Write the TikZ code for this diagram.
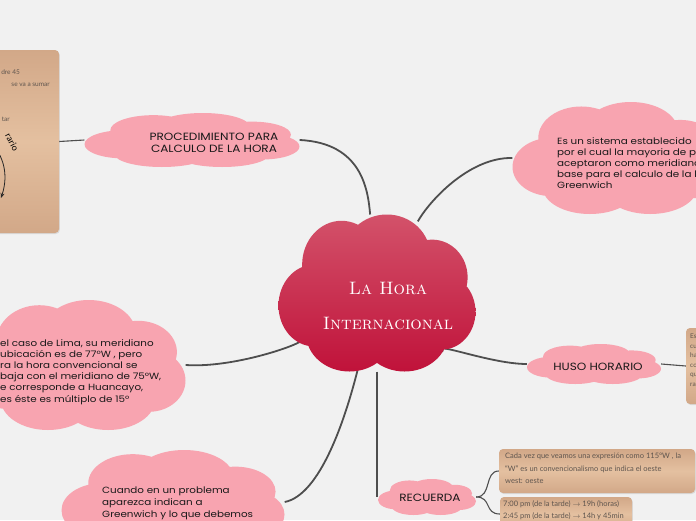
\documentclass[tikz,border=0pt]{standalone}
\usepackage{fontspec}
\usetikzlibrary{shapes.geometric,shadows,arrows.meta}
\newfontfamily\geo[FakeStretch=1.15]{Poppins}
\newfontfamily\hw{Lato}
\definecolor{bgc}{RGB}{241,241,241}
\definecolor{pinkc}{RGB}{248,164,176}
\definecolor{tanA}{RGB}{210,168,136}
\definecolor{tanB}{RGB}{228,192,160}
\definecolor{redA}{RGB}{211,82,106}
\definecolor{redB}{RGB}{192,18,58}
\definecolor{linec}{RGB}{78,78,78}
\definecolor{boxtxt}{RGB}{95,85,78}
\pgfdeclarelayer{bglayer}
\pgfsetlayers{bglayer,main}
% cloud outline in a 100 x 100 unit box centred on the origin
\newcommand\cloudshape{(-32,8) ellipse [x radius=18, y radius=26]
 (-18,-18) ellipse [x radius=20, y radius=28]
 (5,-24) ellipse [x radius=22, y radius=26]
 (28,-10) ellipse [x radius=18, y radius=24]
 (33,12) ellipse [x radius=17, y radius=24]
 (14,26) ellipse [x radius=22, y radius=24]
 (-14,26) ellipse [x radius=22, y radius=24]
 (0,2) ellipse [x radius=36, y radius=30]}
\newcommand\mkcloud[5]{% name, cx, cy, w, h
 \fill[pinkc, shift={(#2,#3)}, xscale=#4/100, yscale=#5/100] \cloudshape;
 \node[cloudnode, minimum width=#4pt, minimum height=#5pt] (#1) at (#2,#3) {};}
\begin{document}
\begin{tikzpicture}[x=1pt,y=-1pt,
  cloudnode/.style={ellipse, draw=none, inner sep=0pt},
  tanbox/.style={rectangle, rounded corners=4pt, draw=none, top color=tanA, bottom color=tanA, middle color=tanB, inner sep=0pt, drop shadow={opacity=0.2, shadow xshift=0.8pt, shadow yshift=-1pt}},
  mainline/.style={draw=linec, line width=1.8pt},
  subline/.style={draw=linec, line width=1.1pt},
  ctxt/.style={font=\geo\fontsize{9}{11}\selectfont, align=left, text=black!90, inner sep=0pt},
  capstxt/.style={font=\geo\fontsize{10.5}{12}\selectfont, align=center, text=black!90, inner sep=0pt},
  btxt/.style={font=\hw\fontsize{7.5}{12.5}\selectfont, align=left, text=boxtxt, inner sep=0pt},
  smalltxt/.style={font=\hw\fontsize{6.5}{8}\selectfont, text=boxtxt, inner sep=0pt}
]
\useasboundingbox (0,0) rectangle (696,520);
\begin{pgfonlayer}{bglayer}
\fill[bgc] (0,0) rectangle (696,520);
\end{pgfonlayer}
\clip (0,0) rectangle (696,520);

% central cloud
\shade[top color=redA, bottom color=redB, shift={(377,293)}, xscale=1.97, yscale=1.57] \cloudshape;
\node[cloudnode, minimum width=197pt, minimum height=157pt] (c) at (377,293) {};
\node[font=\fontsize{18}{35}\selectfont\scshape, text=white, align=center, inner sep=0pt] (title) at (388,306) {La Hora\\Internacional};

% procedure
\mkcloud{proc}{192}{140}{215}{54}
\node[capstxt] (proctxt) at (214,143) {PROCEDIMIENTO PARA\\CALCULO DE LA HORA};
\node[tanbox, minimum width=72pt, minimum height=183pt] (lbox) at (23,141.5) {};
\node[smalltxt, anchor=base east] (lb1) at (20,74) {dre 45};
\node[smalltxt, anchor=base east] (lb2) at (50,86) {se va a sumar};
\node[smalltxt, anchor=base east] (lb3) at (10,121) {tar};
\node[font=\hw\fontsize{9}{9}\selectfont, rotate=-62, inner sep=0pt] (lb4) at (12,142) {rario};
\coordinate (arcA) at (-9,143);
\coordinate (arcB) at (1,198);
\draw[line width=0.8pt, black!85, -{Stealth[length=5pt,width=4pt]}] (arcA) .. controls (3,155) and (9,174) .. (arcB);

% top right
\mkcloud{tr}{620}{158}{215}{112}
\node[ctxt, anchor=north west] (trtxt) at (557,137) {Es un sistema establecido\\por el cual la mayoria de países\\aceptaron como meridiano\\base para el calculo de la hora\\Greenwich};

% left cloud
\mkcloud{lc}{78}{365}{215}{130}
\node[ctxt, anchor=north west, font=\geo\fontsize{9}{11.2}\selectfont] (lctxt) at (0,339) {el caso de Lima, su meridiano\\ubicación es de 77°W , pero\\ra la hora convencional se\\baja con el meridiano de 75°W,\\e corresponde a Huancayo,\\es éste es múltiplo de 15°};

% bottom left
\mkcloud{bl}{173}{502}{223}{104}
\node[ctxt, anchor=north west, font=\geo\fontsize{9}{12}\selectfont] (bltxt) at (102,487) {Cuando en un problema\\aparezca indican a\\Greenwich y lo que debemos};

% huso horario
\mkcloud{huso}{594}{364}{134}{40}
\node[capstxt] (husotxt) at (598,367) {HUSO HORARIO};
\node[tanbox, minimum width=30pt, minimum height=76pt] (hbox) at (701,366) {};
\node[btxt, anchor=north west, font=\hw\fontsize{6.5}{9.5}\selectfont] (hboxtxt) at (690,334) {Es\\cu\\ha\\co\\qu\\ra};

% recuerda
\mkcloud{rec}{427}{497}{98}{36}
\node[capstxt] (rectxt) at (430,498) {RECUERDA};
\node[tanbox, minimum width=196pt, minimum height=44pt] (b1) at (597,471) {};
\node[btxt, anchor=north west] (b1txt) at (505,453) {Cada vez que veamos una expresión como 115°W , la\\“W” es un convencionalismo que indica el oeste\\west: oeste};
\node[tanbox, minimum width=132pt, minimum height=34pt] (b2) at (566,514) {};
\node[btxt, anchor=north west] (b2txt) at (503,500) {7:00 pm (de la tarde) $\rightarrow$ 19h (horas)\\2:45 pm (de la tarde) $\rightarrow$ 14h y 45min};

\begin{pgfonlayer}{bglayer}
\draw[mainline] (c) .. controls (368,190) and (362,143) .. (proc.east);
\draw[mainline] (c) .. controls (430,200) and (470,157) .. (tr.west);
\draw[mainline] (c) .. controls (290,348) and (230,368) .. (lc.east);
\draw[mainline] (c) .. controls (345,420) and (320,495) .. (bl.east);
\draw[mainline] (c) -- (c |- rec.west);
\draw[mainline] (c) .. controls (430,340) and (490,364) .. (huso.west);
\draw[subline] (huso.east) -- (hbox.west);
\draw[subline] (proc.west) -- (lbox.east);
\draw[subline] (rec.east) .. controls (492,497) and (484,471) .. (b1.west);
\draw[subline] (rec.east) .. controls (492,497) and (484,514) .. (b2.west);
\end{pgfonlayer}
\end{tikzpicture}
\end{document}
